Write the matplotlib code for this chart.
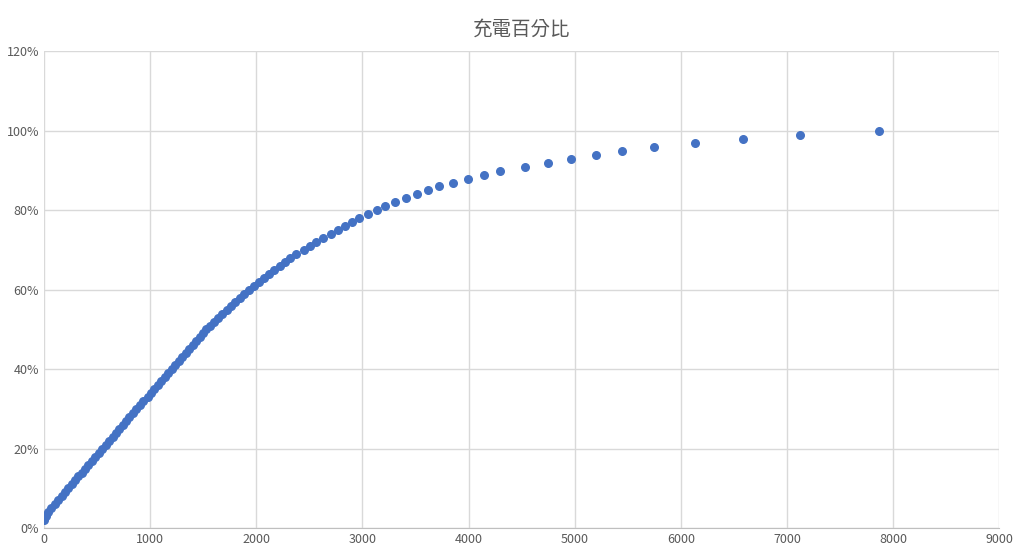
import matplotlib
matplotlib.use("Agg")
import matplotlib.pyplot as plt
from matplotlib.ticker import FuncFormatter

plt.rcParams['font.family'] = ['Noto Sans CJK TC', 'DejaVu Sans']

# 充電百分比 (%) vs 時間
pct = list(range(2, 101))
t = [0, 15, 40, 70, 100, 130, 165, 195, 225,
     260, 290, 320, 355, 385, 415, 450, 480, 515, 545,
     580, 610, 645, 675, 710, 740, 775, 805, 840, 870,
     905, 935, 975, 1010, 1040, 1075, 1105, 1140, 1170, 1205,
     1235, 1270, 1300, 1335, 1365, 1400, 1430, 1465, 1495, 1525,
     1560, 1600, 1640, 1680, 1720, 1760, 1800, 1845, 1885, 1935,
     1980, 2025, 2070, 2120, 2170, 2220, 2270, 2320, 2375, 2445,
     2505, 2565, 2630, 2700, 2765, 2835, 2905, 2965, 3050, 3136,
     3215, 3310, 3410, 3510, 3616, 3725, 3855, 3992, 4140, 4294,
     4529, 4746, 4962, 5198, 5443, 5744, 6130, 6582, 7118, 7870]
y = [p / 100 for p in pct]

fig = plt.figure(figsize=(10.24, 5.53), dpi=100)
ax = fig.add_axes([0.043, 0.045, 0.933, 0.862])
ax.scatter(t, y, s=30, color='#4472C4', zorder=3)
ax.set_xlim(0, 9000)
ax.set_ylim(0, 1.2)
ax.set_xticks(range(0, 9001, 1000))
ax.set_yticks([i / 10 for i in range(0, 13, 2)])
ax.yaxis.set_major_formatter(FuncFormatter(lambda v, _: f"{v*100:.0f}%"))
ax.grid(True, color='#d9d9d9', linewidth=1)
for s in ['top', 'right', 'left']:
    ax.spines[s].set_visible(False)
ax.spines['bottom'].set_color('#bfbfbf')
ax.tick_params(length=0, colors='#595959', labelsize=9)
ax.set_title('充電百分比', color='#595959', fontsize=14, pad=12)
fig.savefig('out.png')
